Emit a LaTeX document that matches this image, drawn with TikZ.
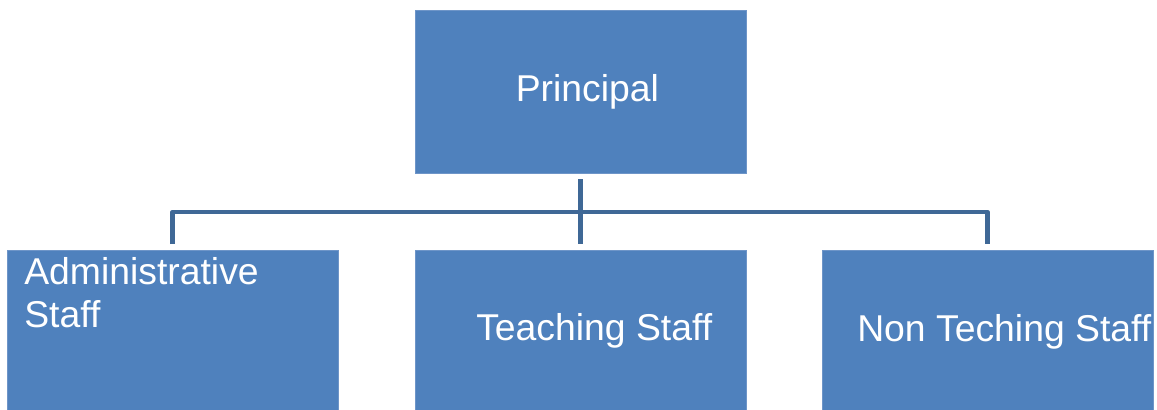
\documentclass[tikz,border=0pt]{standalone}
\usepackage{fontspec}
\setmainfont{Liberation Sans}
\usepackage{xcolor}
\usepackage{tikz}
\usetikzlibrary{positioning}

\definecolor{boxblue}{HTML}{4F81BD}
\definecolor{boxedge}{HTML}{6E95C8}
\definecolor{linkblue}{HTML}{3F6896}

\begin{document}
\begin{tikzpicture}[
    x=0.75pt, y=-0.75pt,
    unit/.style={rectangle, fill=boxblue, draw=boxedge, line width=0.4pt,
        minimum width=248.25pt, minimum height=122.25pt, inner sep=0pt, outer sep=0pt},
    lbl/.style={text=white, inner sep=0pt, font=\fontsize{28}{32.25}\selectfont},
    link/.style={draw=linkblue, line width=3.4pt, line join=round}
]
    \useasboundingbox (0,0) rectangle (1157,410);
    \clip (0,0) rectangle (1154,410);

    % boxes
    \node[unit] (pri) at (580.5,91.5) {};
    \node[unit] (adm) at (172.5,331.5) {};
    \node[unit] (tch) at (580.5,331.5) {};
    \node[unit] (ntc) at (987.5,331.5) {};

    % texts
    \node[lbl, anchor=base west] (pritxt) at (515.5,102) {Principal};
    \node[lbl, anchor=base west, align=left] (admtxt) at (24,327) {Administrative\\Staff};
    \node[lbl, anchor=base west] (tchtxt) at (476,340) {Teaching Staff};
    \node[lbl, anchor=base west] (ntctxt) at (857,341) {Non Teching Staff};

    % connectors
    \coordinate (bar) at (580.5,212);
    \draw[link, shorten <=4.5pt, shorten >=4.5pt] (pri.south) -- (tch.north);
    \draw[link, shorten <=4.5pt, shorten >=4.5pt] (adm.north) |- (bar) -| (ntc.north);
\end{tikzpicture}
\end{document}
